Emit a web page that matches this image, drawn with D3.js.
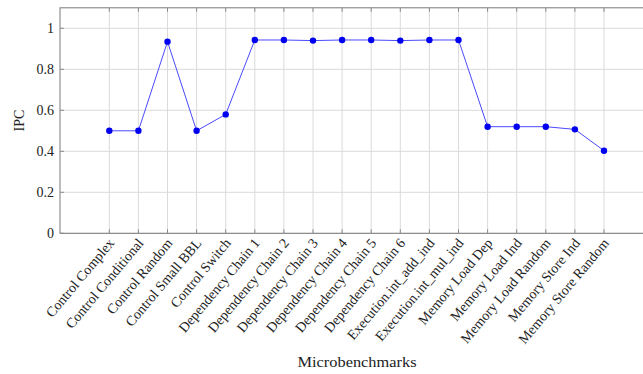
<!DOCTYPE html>
<html>
<head>
<meta charset="utf-8">
<script src="https://cdn.jsdelivr.net/npm/d3@7"></script>
<style>
  html, body { margin: 0; padding: 0; background: #fff; }
  svg { display: block; }
  text { font-family: "Liberation Serif", "DejaVu Serif", serif; fill: #222; }
</style>
</head>
<body>
<svg id="chart" width="643" height="374"></svg>
<script>
// Microbenchmark names along the x axis
const categories = [
  "Control Complex", "Control Conditional", "Control Random", "Control Small BBL",
  "Control Switch", "Dependency Chain 1", "Dependency Chain 2", "Dependency Chain 3",
  "Dependency Chain 4", "Dependency Chain 5", "Dependency Chain 6",
  "Execution.int_add_ind", "Execution.int_mul_ind", "Memory Load Dep",
  "Memory Load Ind", "Memory Load Random", "Memory Store Ind", "Memory Store Random"
];

// Instructions per cycle for each microbenchmark
const ipcValues = [
  0.50, 0.50, 0.935, 0.50, 0.58, 0.943, 0.943, 0.94, 0.943, 0.943, 0.94,
  0.943, 0.943, 0.52, 0.52, 0.52, 0.507, 0.403
];

const yTickValues = [0, 0.2, 0.4, 0.6, 0.8, 1];
const yTickLabels = ["0", "0.2", "0.4", "0.6", "0.8", "1"];

const svg = d3.select("#chart");

const frame = { left: 60, right: 653, top: 7.8, bottom: 233.3 };

const x = d3.scalePoint()
  .domain(categories)
  .range([109.3, 604]);

const y = d3.scaleLinear()
  .domain([0, 1.1])
  .range([frame.bottom, frame.top]);

const gridColor = "#dadada";
const axisColor = "#7a7a7a";

// Grid lines
const grid = svg.append("g");
grid.selectAll("line.gx")
  .data(categories)
  .join("line")
  .attr("x1", d => x(d)).attr("x2", d => x(d))
  .attr("y1", frame.top).attr("y2", frame.bottom)
  .attr("stroke", gridColor).attr("stroke-width", 1);
grid.selectAll("line.gy")
  .data(yTickValues)
  .join("line")
  .attr("x1", frame.left).attr("x2", frame.right)
  .attr("y1", d => y(d)).attr("y2", d => y(d))
  .attr("stroke", gridColor).attr("stroke-width", 1);

// Axis frame
svg.append("rect")
  .attr("x", frame.left).attr("y", frame.top)
  .attr("width", frame.right - frame.left)
  .attr("height", frame.bottom - frame.top)
  .attr("fill", "none")
  .attr("stroke", axisColor).attr("stroke-width", 1);

// Inward tick marks
const ticks = svg.append("g").attr("stroke", "#8a8a8a").attr("stroke-width", 1);
ticks.selectAll("line.tb")
  .data(categories).join("line")
  .attr("x1", d => x(d)).attr("x2", d => x(d))
  .attr("y1", frame.bottom).attr("y2", frame.bottom - 4);
ticks.selectAll("line.tt")
  .data(categories).join("line")
  .attr("x1", d => x(d)).attr("x2", d => x(d))
  .attr("y1", frame.top).attr("y2", frame.top + 4);
ticks.selectAll("line.tl")
  .data(yTickValues).join("line")
  .attr("x1", frame.left).attr("x2", frame.left + 4)
  .attr("y1", d => y(d)).attr("y2", d => y(d));

// Y tick labels
svg.append("g").selectAll("text")
  .data(yTickValues)
  .join("text")
  .attr("x", frame.left - 6)
  .attr("y", d => y(d))
  .attr("dy", "0.35em")
  .attr("text-anchor", "end")
  .attr("font-size", 14)
  .text((d, i) => yTickLabels[i]);

// Rotated x tick labels
svg.append("g").selectAll("text")
  .data(categories)
  .join("text")
  .attr("transform", d => `translate(${x(d) + 2},${frame.bottom + 7}) rotate(-50)`)
  .attr("text-anchor", "end")
  .attr("dy", "0.35em")
  .attr("font-size", 14)
  .text(d => d);

// Axis titles
svg.append("text")
  .attr("x", 357).attr("y", 367)
  .attr("text-anchor", "middle")
  .attr("font-size", 14)
  .attr("textLength", 119)
  .attr("lengthAdjust", "spacingAndGlyphs")
  .text("Microbenchmarks");

svg.append("text")
  .attr("transform", `translate(24,${y(0.55)}) rotate(-90)`)
  .attr("text-anchor", "middle")
  .attr("font-size", 14)
  .text("IPC");

// Data line and markers
const data = categories.map((c, i) => ({ c, v: ipcValues[i] }));

svg.append("path")
  .datum(data)
  .attr("fill", "none")
  .attr("stroke", "#4a4aff")
  .attr("stroke-width", 1)
  .attr("d", d3.line().x(d => x(d.c)).y(d => y(d.v)));

svg.append("g").selectAll("circle")
  .data(data)
  .join("circle")
  .attr("cx", d => x(d.c))
  .attr("cy", d => y(d.v))
  .attr("r", 3.2)
  .attr("fill", "#0000f0");
</script>
</body>
</html>
